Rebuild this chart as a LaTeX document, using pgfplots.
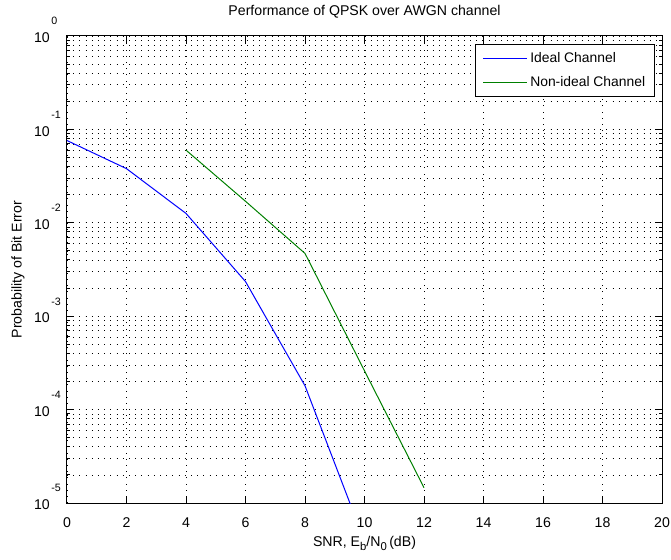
\documentclass[border=0pt]{standalone}
\usepackage{fontspec}
\setmainfont{Liberation Sans}
\usepackage{pgfplots}
\pgfplotsset{compat=1.18}

\newcommand{\tenexp}[1]{10\rlap{\kern1.2pt\raisebox{13.3pt}{\fontsize{8}{9}\selectfont #1}}}
\newcommand{\lowsub}[1]{\raisebox{-3pt}{\fontsize{8.5}{9}\selectfont #1}}

\begin{document}
\begin{tikzpicture}
\begin{axis}[
    scale only axis,
    width=446.25pt, height=350.25pt,
    ymode=log,
    xmin=0, xmax=20, ymin=1e-5, ymax=1,
    xtick={0,2,...,20},
    minor x tick num=0,
    ytick={1e-5,1e-4,1e-3,1e-2,1e-1,1},
    yticklabels={\tenexp{-5},\tenexp{-4},\tenexp{-3},\tenexp{-2},\tenexp{-1},\tenexp{0}},
    /pgf/number format/assume math mode=true,
    font=\fontsize{10.6}{12}\selectfont,
    axis line style={line width=0.75pt},
    tick style={black, line width=0.75pt},
    major tick length=5pt, minor tick length=2.5pt,
    xmajorgrids, ymajorgrids, yminorgrids,
    grid style={black, line width=0.55pt, dash pattern=on 0.55pt off 4.1pt},
    minor grid style={black, line width=0.55pt, dash pattern=on 0.55pt off 4.1pt},
    xticklabel style={anchor=base, yshift=-18.5pt, inner sep=0pt},
    yticklabel style={anchor=base east, inner sep=0pt, xshift=-12.75pt, yshift=-5pt},
    title={Performance of QPSK over AWGN channel},
    title style={at={(axis description cs:0.5,1.0271)}, anchor=base},
    xlabel={SNR, E\lowsub{b}/N\lowsub{0}\,(dB)},
    xlabel style={at={(axis description cs:0.5,-0.0936)}, anchor=base},
    ylabel={Probability of Bit Error},
    ylabel style={at={(axis description cs:-0.0824,0.5)}, anchor=center},
    legend style={at={(axis description cs:1,1)}, anchor=north east,
        xshift=-5.25pt, yshift=-6pt, draw=black, line width=0.75pt,
        inner xsep=5pt, inner ysep=4pt, row sep=5pt, legend cell align=left,
        font=\fontsize{10.4}{12}\selectfont},
    legend image code/.code={\draw[#1, line width=0.75pt] (0pt,0pt) -- (33pt,0pt);},
]
    % ideal channel
    \addplot[color={rgb,255:red,0;green,0;blue,255}, line width=0.75pt] coordinates {
        (0, 0.0760) (2, 0.0380) (4, 0.0126) (6, 0.00235) (8, 0.000180) (10, 0.0000039)
    };
    \addlegendentry{Ideal Channel}

    % non-ideal channel
    \addplot[color={rgb,255:red,0;green,128;blue,0}, line width=0.75pt] coordinates {
        (4, 0.0600) (6, 0.0170) (8, 0.0047) (10, 0.00026) (12, 0.0000146)
    };
    \addlegendentry{Non-ideal Channel}
\end{axis}
\pgfresetboundingbox
\path[use as bounding box] (-50.25pt,-42.75pt) rectangle (453pt,377.25pt);
\end{tikzpicture}
\end{document}
